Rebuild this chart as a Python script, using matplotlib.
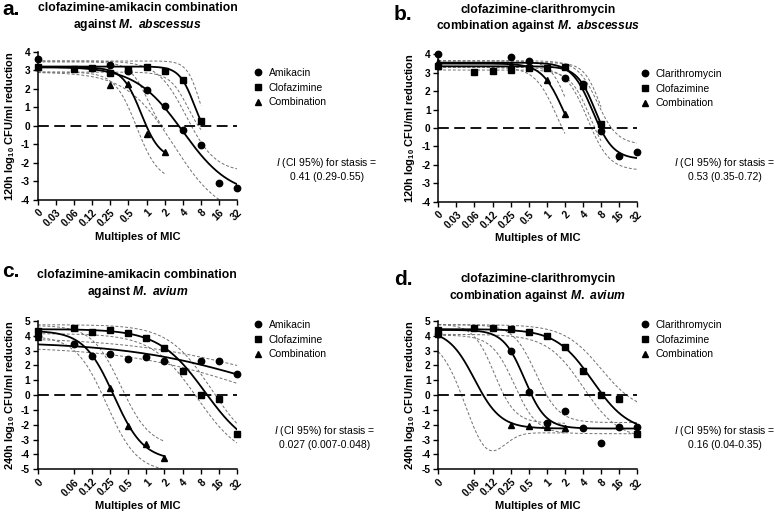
import numpy as np
import matplotlib
matplotlib.use('Agg')
import matplotlib.pyplot as plt
from matplotlib.lines import Line2D

plt.rcParams['font.family'] = ['Liberation Sans', 'DejaVu Sans']
plt.rcParams['mathtext.fontset'] = 'custom'
plt.rcParams['mathtext.rm'] = 'Liberation Sans:bold'
plt.rcParams['mathtext.it'] = 'Liberation Sans:bold:italic'
plt.rcParams['mathtext.sf'] = 'Liberation Sans:italic'

# ---------------- data ----------------
conc_labels = ['0', '0.03', '0.06', '0.12', '0.25', '0.5', '1', '2', '4', '8', '16', '32']
conc_values = [2.0 ** -6, 2.0 ** -5, 2.0 ** -4, 2.0 ** -3, 2.0 ** -2, 2.0 ** -1, 1, 2, 4, 8, 16, 32]  # '0' drawn at 2^-6
ticks_ab = conc_labels
ticks_cd = ['0', '0.06', '0.12', '0.25', '0.5', '1', '2', '4', '8', '16', '32']

# panel a: clofazimine-amikacin, M. abscessus
a_amik_x = ['0', '0.25', '0.5', '1', '2', '4', '8', '16', '32']
a_amik_y = [3.6, 3.3, 2.95, 1.94, 1.08, -0.22, -1.03, -3.06, -3.35]
a_clof_x = ['0', '0.06', '0.12', '0.25', '0.5', '1', '2', '4', '8']
a_clof_y = [3.15, 3.05, 3.1, 2.85, 3.0, 3.2, 2.95, 2.45, 0.25]
a_comb_x = ['0', '0.25', '0.5', '1', '2']
a_comb_y = [3.15, 2.2, 2.25, -0.45, -1.4]

# panel b: clofazimine-clarithromycin, M. abscessus
b_clar_x = ['0', '0.25', '0.5', '2', '4', '8', '16', '32']
b_clar_y = [4.0, 3.85, 3.62, 2.7, 2.4, -0.15, -1.52, -1.3]
b_clof_x = ['0', '0.06', '0.12', '0.25', '0.5', '1', '2', '4', '8']
b_clof_y = [3.37, 3.04, 3.08, 3.17, 3.26, 3.24, 3.3, 2.3, 0.22]
b_comb_x = ['0', '0.25', '1', '2']
b_comb_y = [3.6, 3.4, 2.6, 0.76]

# panel c: clofazimine-amikacin, M. avium
c_amik_x = ['0', '0.06', '0.12', '0.25', '0.5', '1', '2', '8', '16', '32']
c_amik_y = [4.0, 3.42, 2.63, 2.76, 2.47, 2.54, 2.29, 2.31, 2.27, 1.46]
c_clof_x = ['0', '0.06', '0.12', '0.25', '0.5', '1', '2', '4', '8', '16', '32']
c_clof_y = [4.3, 4.54, 4.29, 4.4, 4.22, 3.88, 3.21, 1.62, 0.0, -0.29, -2.65]
c_comb_x = ['0', '0.25', '0.5', '1', '2']
c_comb_y = [3.93, 0.49, -2.07, -3.26, -4.25]

# panel d: clofazimine-clarithromycin, M. avium
d_clar_x = ['0', '0.25', '0.5', '1', '2', '4', '8', '16', '32']
d_clar_y = [4.11, 2.99, 0.18, -1.89, -1.06, -2.2, -3.21, -2.18, -2.18]
d_clof_x = ['0', '0.06', '0.12', '0.25', '0.5', '1', '2', '4', '8', '16', '32']
d_clof_y = [4.36, 4.54, 4.54, 4.49, 4.25, 3.96, 3.28, 1.62, 0.04, -0.27, -2.63]
d_comb_x = ['0', '0.25', '0.5', '1', '2']
d_comb_y = [4.1, -1.98, -2.09, -2.13, -2.2]

# fitted sigmoid curves (top, bottom, log2 mid, hill) and 95% bands (upper, lower)
a_amik_fit = (3.2, -3.8, 2.0, 1.1);   a_amik_band = [(3.5, -2.5, 2.2, 1.8), (2.9, -5.0, 1.5, 1.1)]
a_clof_fit = (3.2, -1.0, 2.64, 3.44); a_clof_band = [(3.5, -1.0, 2.95, 4.0), (2.9, -1.0, 2.3, 2.8)]
a_comb_fit = (3.15, -1.8, -0.3, 2.8); a_comb_band = [(3.45, -0.8, 0.1, 2.8), (2.9, -3.0, -0.55, 2.4)]

b_clar_fit = (3.55, -1.7, 2.53, 2.53); b_clar_band = [(3.65, -0.9, 2.8, 2.6), (3.3, -2.3, 2.25, 2.4)]
b_clof_fit = (3.35, -1.5, 2.69, 2.84); b_clof_band = [(3.55, -1.0, 2.95, 3.2), (3.15, -2.0, 2.4, 2.6)]
b_comb_fit = (3.5, -1.5, 0.89, 2.46);  b_comb_band = [(3.65, -1.0, 1.15, 3.0), (3.3, -2.0, 0.55, 2.4)]

c_amik_fit = (3.6, -1.5, 6.0, 0.4);   c_amik_band = [(3.9, -0.5, 6.0, 0.4), (3.3, -2.5, 6.0, 0.4)]
c_clof_fit = (4.45, -4.0, 3.23, 1.13); c_clof_band = [(4.75, -4.0, 3.6, 1.2), (4.15, -4.5, 2.8, 1.15)]
c_comb_fit = (4.35, -4.4, -1.8, 1.75); c_comb_band = [(4.7, -3.5, -1.4, 1.8), (4.0, -5.2, -2.2, 1.7)]

d_clar_fit = (4.4, -2.25, -1.23, 2.47); d_clar_band = [(4.75, -1.85, -0.6, 2.3), (4.05, -2.6, -1.8, 2.3)]
d_clof_fit = (4.45, -2.5, 2.52, 1.44);  d_clof_band = [(4.75, -1.2, 3.0, 1.4), (4.1, -3.0, 2.0, 1.45)]
d_comb_fit = (4.4, -2.25, -4.0, 2.0);   d_comb_band = [(4.8, -1.9, -2.9, 2.5), (4.0, -2.55, -4.8, 2.0)]
d_comb_lower_dip = (-1.8, -3.3, 0.9)  # amplitude, centre (log2), width

titles = ['clofazimine-amikacin combination\nagainst $\\mathit{M.\\ abscessus}$',
          'clofazimine-clarithromycin\ncombination against $\\mathit{M.\\ abscessus}$',
          'clofazimine-amikacin combination\nagainst $\\mathit{M.\\ avium}$',
          'clofazimine-clarithromycin\ncombination against $\\mathit{M.\\ avium}$']
ylabels = ['120h log$_{\\mathrm{10}}$ CFU/ml reduction', '120h log$_{\\mathrm{10}}$ CFU/ml reduction',
           '240h log$_{\\mathrm{10}}$ CFU/ml reduction', '240h log$_{\\mathrm{10}}$ CFU/ml reduction']
stasis = ['0.41 (0.29-0.55)', '0.53 (0.35-0.72)', '0.027 (0.007-0.048)', '0.16 (0.04-0.35)']
letters = ['a.', 'b.', 'c.', 'd.']

# ---------------- helpers ----------------
def xv(labels):
    return np.array([conc_values[conc_labels.index(l)] for l in labels])


def hill(lx, p):
    top, bottom, mid, h = p
    return bottom + (top - bottom) / (1 + 2.0 ** (h * (lx - mid)))


fig = plt.figure(figsize=(7.8, 5.18), dpi=100)

rects = [[0.0483, 0.6139, 0.2559, 0.2863], [0.5619, 0.6106, 0.2551, 0.2845],
         [0.0483, 0.0940, 0.2555, 0.2863], [0.5619, 0.0940, 0.2551, 0.2863]]
ylims = [(-4, 4), (-4, 4), (-5, 5), (-5, 5)]
tick_sets = [ticks_ab, ticks_ab, ticks_cd, ticks_cd]
title_off = [0.126, 0.136, 0.142, 0.115]

series = [
    [('Amikacin', 'o', a_amik_x, a_amik_y, a_amik_fit, a_amik_band, None),
     ('Clofazimine', 's', a_clof_x, a_clof_y, a_clof_fit, a_clof_band, None),
     ('Combination', '^', a_comb_x, a_comb_y, a_comb_fit, a_comb_band, None)],
    [('Clarithromycin', 'o', b_clar_x, b_clar_y, b_clar_fit, b_clar_band, None),
     ('Clofazimine', 's', b_clof_x, b_clof_y, b_clof_fit, b_clof_band, None),
     ('Combination', '^', b_comb_x, b_comb_y, b_comb_fit, b_comb_band, None)],
    [('Amikacin', 'o', c_amik_x, c_amik_y, c_amik_fit, c_amik_band, None),
     ('Clofazimine', 's', c_clof_x, c_clof_y, c_clof_fit, c_clof_band, None),
     ('Combination', '^', c_comb_x, c_comb_y, c_comb_fit, c_comb_band, None)],
    [('Clarithromycin', 'o', d_clar_x, d_clar_y, d_clar_fit, d_clar_band, None),
     ('Clofazimine', 's', d_clof_x, d_clof_y, d_clof_fit, d_clof_band, None),
     ('Combination', '^', d_comb_x, d_comb_y, d_comb_fit, d_comb_band, d_comb_lower_dip)],
]

legend_pos = [(253, 68), (640, 69), (253, 320), (640, 320)]
note_pos = [(327, 169), (725, 169), (325, 436.5), (725, 436.5)]
letter_pos = [(2, 15), (394, 20), (2, 277), (394, 285)]
msize = {'o': 4.6, 's': 4.8, '^': 4.8}

W, H = 780.0, 518.0
for i in range(4):
    ax = fig.add_axes(rects[i])
    ax.set_xscale('log', base=2)
    ax.set_xlim(conc_values[0], conc_values[-1])
    ax.set_ylim(*ylims[i])
    handles = []
    for name, mk, xs, ys, fit, band, dip in series[i]:
        x = xv(xs)
        lx = np.linspace(-6, np.log2(x.max()), 300)
        xx = 2.0 ** lx
        for j, bp in enumerate(band):
            yb = hill(lx, bp)
            if dip is not None and j == 1:
                amp, cen, wid = dip
                yb = yb + amp * np.exp(-((lx - cen) ** 2) / (2 * wid ** 2))
            ax.plot(xx, yb, color='#707070', lw=0.7, dashes=(3, 2))
        ax.plot(xx, hill(lx, fit), color='black', lw=1.3, zorder=4)
        ax.plot(x, ys, ls='none', marker=mk, color='black', ms=msize[mk], zorder=5, clip_on=False)
        handles.append(Line2D([], [], ls='none', marker=mk, color='black', ms=msize[mk], label=name))
    ax.axhline(0, color='black', lw=1.3, dashes=(6, 3), zorder=3)

    for s in ['top', 'right']:
        ax.spines[s].set_visible(False)
    for s in ['left', 'bottom']:
        ax.spines[s].set_linewidth(1.1)
    ax.set_yticks(range(ylims[i][0], ylims[i][1] + 1))
    ax.set_yticklabels([str(v) for v in range(ylims[i][0], ylims[i][1] + 1)])
    ax.set_xticks(xv(tick_sets[i]))
    ax.set_xticklabels(tick_sets[i], rotation=45, ha='right', rotation_mode='anchor')
    ax.minorticks_off()
    ax.tick_params(axis='both', direction='out', length=3.5, width=1.0, labelsize=7.3, pad=2)
    for lab in ax.get_xticklabels() + ax.get_yticklabels():
        lab.set_fontweight('bold')

    ax.set_xlabel('Multiples of MIC', fontsize=8, fontweight='bold')
    ax.xaxis.set_label_coords(0.5, -0.215)
    ax.set_ylabel(ylabels[i], fontsize=7.9, fontweight='bold')
    ax.yaxis.set_label_coords(-0.105, 0.5)
    ax.text(0.5, 1 + title_off[i], titles[i], transform=ax.transAxes, ha='center', va='bottom',
            fontsize=8.7, fontweight='bold', linespacing=1.25)

    lx0, ly0 = legend_pos[i]
    ax.legend(handles=handles, loc='upper left', bbox_to_anchor=(lx0 / W, 1 - ly0 / H),
              bbox_transform=fig.transFigure, frameon=False, borderaxespad=0, borderpad=0,
              handlelength=1.0, handletextpad=0.5, labelspacing=0.45, fontsize=7.5)

    nx, ny = note_pos[i]
    fig.text(nx / W, 1 - ny / H, '$\\mathsf{I}$ (CI 95%) for stasis =\n' + stasis[i],
             ha='center', va='center', multialignment='center', fontsize=7.5, linespacing=1.25)
    tx, ty = letter_pos[i]
    fig.text(tx / W, 1 - ty / H, letters[i], ha='left', va='baseline', fontsize=15, fontweight='bold')

fig.savefig('out.png', dpi=100)
